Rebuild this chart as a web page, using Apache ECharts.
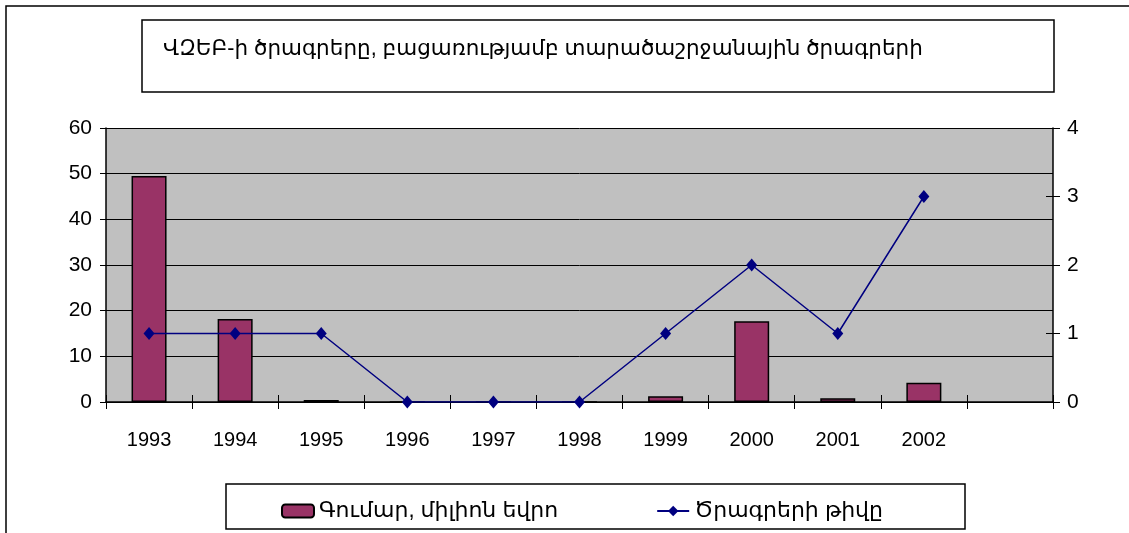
<!DOCTYPE html>
<html>
<head>
<meta charset="utf-8">
<script src="https://cdn.jsdelivr.net/npm/echarts@6/dist/echarts.min.js"></script>
<style>
  html, body { margin: 0; padding: 0; background: #fff; }
  #chart { width: 1129px; height: 533px; }
</style>
</head>
<body>
<div id="chart"></div>
<script>
const years = ['1993', '1994', '1995', '1996', '1997', '1998', '1999', '2000', '2001', '2002', ''];
const amounts = [49.5, 18.2, 0.45, 0, 0, 0, 1.25, 17.7, 0.8, 4.2];
const counts = [1, 1, 1, 0, 0, 0, 1, 2, 1, 3];
const leftTicks = { min: 0, max: 60, interval: 10 };
const rightTicks = { min: 0, max: 4, interval: 1 };

const titleText = 'ՎԶԵԲ-ի ծրագրերը, բացառությամբ տարածաշրջանային ծրագրերի';
const amountName = 'Գումար, միլիոն եվրո';
const countName = 'Ծրագրերի թիվը';

const font = '"Liberation Sans", "DejaVu Sans", Arial, sans-serif';

const chart = echarts.init(document.getElementById('chart'));

chart.setOption({
  animation: false,
  backgroundColor: '#fff',
  textStyle: { fontFamily: font },
  title: {
    text: titleText,
    left: 158,
    top: 33,
    textStyle: { fontSize: 21.5, fontWeight: 'normal', color: '#000', fontFamily: font }
  },
  graphic: [
    // outer frame
    { type: 'rect', shape: { x: 6, y: 6, width: 1140, height: 560 }, style: { fill: 'none', stroke: '#000', lineWidth: 1.5 }, silent: true },
    // title box
    { type: 'rect', shape: { x: 142, y: 20, width: 912, height: 72 }, style: { fill: 'none', stroke: '#000', lineWidth: 1.5 }, silent: true },
    // legend box
    { type: 'rect', shape: { x: 226, y: 484, width: 739, height: 45 }, style: { fill: 'none', stroke: '#000', lineWidth: 1.5 }, silent: true }
  ],
  legend: {
    left: 276,
    top: 495,
    itemWidth: 32,
    itemHeight: 13,
    itemGap: 98,
    textStyle: { fontSize: 22, color: '#000', fontFamily: font },
    data: [amountName, countName]
  },
  grid: {
    left: 106,
    right: 76,
    top: 128,
    bottom: 131,
    show: true,
    backgroundColor: '#c0c0c0',
    borderWidth: 0
  },
  xAxis: [
    {
      type: 'category',
      data: years,
      boundaryGap: true,
      axisLine: { show: true, lineStyle: { color: '#000', width: 1.5 } },
      axisTick: { show: true, length: 7, lineStyle: { color: '#000' } },
      axisLabel: { fontSize: 20, color: '#000', margin: 28, fontFamily: font }
    },
    {
      type: 'category',
      data: years,
      position: 'bottom',
      boundaryGap: true,
      axisLine: { show: false },
      axisTick: { show: true, inside: true, length: 7, lineStyle: { color: '#000' } },
      axisLabel: { show: false }
    }
  ],
  yAxis: [
    {
      type: 'value',
      position: 'left',
      min: leftTicks.min,
      max: leftTicks.max,
      interval: leftTicks.interval,
      axisLine: { show: true, lineStyle: { color: '#000', width: 1.5 } },
      axisTick: { show: true, length: 6, lineStyle: { color: '#000' } },
      axisLabel: { fontSize: 21, color: '#000', margin: 14, fontFamily: font },
      splitLine: { show: true, lineStyle: { color: '#000', width: 1 } }
    },
    {
      type: 'value',
      position: 'right',
      min: rightTicks.min,
      max: rightTicks.max,
      interval: rightTicks.interval,
      axisLine: { show: true, lineStyle: { color: '#000', width: 1.5 } },
      axisTick: { show: true, length: 7, lineStyle: { color: '#000' } },
      axisLabel: { fontSize: 21, color: '#000', margin: 14, fontFamily: font },
      splitLine: { show: false }
    },
    {
      type: 'value',
      position: 'right',
      min: rightTicks.min,
      max: rightTicks.max,
      interval: rightTicks.interval,
      axisLine: { show: false },
      axisTick: { show: true, inside: true, length: 7, lineStyle: { color: '#000' } },
      axisLabel: { show: false },
      splitLine: { show: false }
    }
  ],
  series: [
    {
      name: amountName,
      type: 'bar',
      yAxisIndex: 0,
      data: amounts,
      barWidth: 35,
      itemStyle: { color: '#993366', borderColor: '#000', borderWidth: 1.5 }
    },
    {
      name: countName,
      type: 'line',
      yAxisIndex: 1,
      data: counts,
      symbol: 'diamond',
      symbolSize: [11, 13],
      lineStyle: { color: '#000080', width: 1.5 },
      itemStyle: { color: '#000080' }
    }
  ]
});
</script>
</body>
</html>
